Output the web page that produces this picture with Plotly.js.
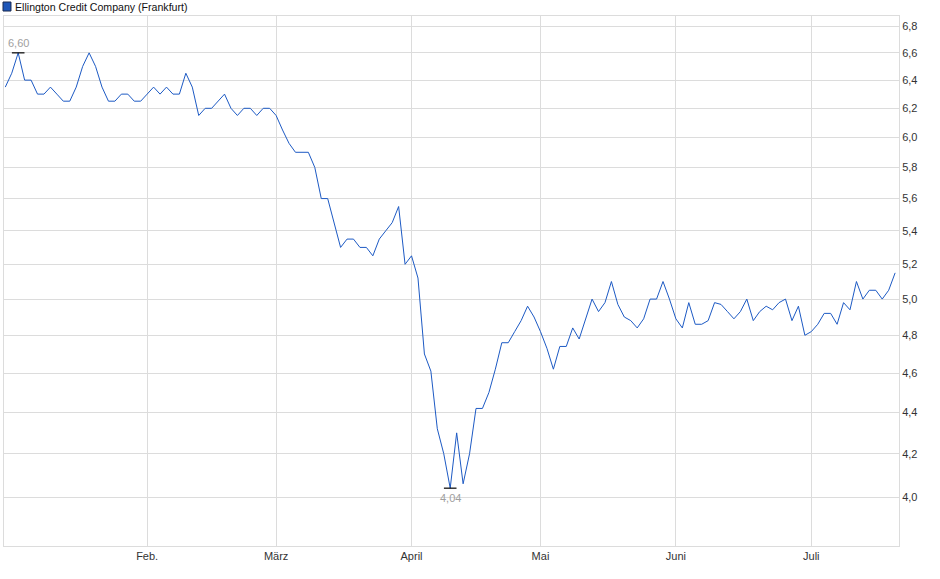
<!DOCTYPE html>
<html>
<head>
<meta charset="utf-8">
<script src="https://cdn.plot.ly/plotly-3.0.1.min.js"></script>
<style>
  html, body { margin: 0; padding: 0; background: #fff; }
  #chart { width: 940px; height: 579px; }
</style>
</head>
<body>
<div id="chart"></div>
<script>
// Ellington Credit Company (Frankfurt) - daily closes, Jan to mid July
// one value per trading day
const seriesName = 'Ellington Credit Company (Frankfurt)';
const closes = [
  6.35, 6.45, 6.60, 6.40, 6.40, 6.30, 6.30, 6.35, 6.30, 6.25,
  6.25, 6.35, 6.50, 6.60, 6.50, 6.35, 6.25, 6.25, 6.30, 6.30,
  6.25, 6.25, 6.30, 6.35, 6.30, 6.35, 6.30, 6.30, 6.45, 6.35,
  6.15, 6.20, 6.20, 6.25, 6.30, 6.20, 6.15, 6.20, 6.20, 6.15,
  6.20, 6.20, 6.15, 6.05, 5.96, 5.90, 5.90, 5.90, 5.80, 5.60,
  5.60, 5.45, 5.30, 5.35, 5.35, 5.30, 5.30, 5.25, 5.35, 5.40,
  5.45, 5.55, 5.20, 5.25, 5.12, 4.70, 4.61, 4.32, 4.20, 4.04,
  4.30, 4.06, 4.20, 4.42, 4.42, 4.50, 4.62, 4.76, 4.76, 4.82,
  4.88, 4.96, 4.90, 4.82, 4.73, 4.62, 4.74, 4.74, 4.84, 4.78,
  4.89, 5.00, 4.93, 4.98, 5.10, 4.97, 4.90, 4.88, 4.84, 4.89,
  5.00, 5.00, 5.10, 5.00, 4.89, 4.84, 4.98, 4.86, 4.86, 4.88,
  4.98, 4.97, 4.93, 4.89, 4.93, 5.00, 4.88, 4.93, 4.96, 4.94,
  4.98, 5.00, 4.88, 4.96, 4.80, 4.82, 4.86, 4.92, 4.92, 4.86,
  4.98, 4.94, 5.10, 5.00, 5.05, 5.05, 5.00, 5.05, 5.15
];

// first trading day of each month (index into closes) and its label
const monthStartIdx = [22, 42, 63, 83, 104, 125];
const monthLabels = ['Feb.', 'März', 'April', 'Mai', 'Juni', 'Juli'];

const yTicks = [4.0, 4.2, 4.4, 4.6, 4.8, 5.0, 5.2, 5.4, 5.6, 5.8, 6.0, 6.2, 6.4, 6.6, 6.8];

const dayIdx = closes.map((_, i) => i);

// high / low markers
const maxVal = Math.max(...closes);
const minVal = Math.min(...closes);
const maxIdx = closes.indexOf(maxVal);
const minIdx = closes.indexOf(minVal);

function fmtDE(v) {
    return v.toFixed(2).replace('.', ',');
}

const lineColor = '#1d5ac4';
const gridColor = '#dcdcdc';

const traces = [
    {
        x: dayIdx,
        y: closes,
        type: 'scatter',
        mode: 'lines',
        name: seriesName,
        line: { color: lineColor, width: 1 },
        hoverinfo: 'skip'
    },
    {
        x: [maxIdx, minIdx],
        y: [maxVal, minVal],
        type: 'scatter',
        mode: 'markers',
        marker: { symbol: 'line-ew', size: 9, line: { color: '#000', width: 1.2 } },
        hoverinfo: 'skip'
    }
];

const layout = {
    width: 940,
    height: 579,
    margin: { l: 4, r: 41, t: 16, b: 33 },
    paper_bgcolor: '#fff',
    plot_bgcolor: '#fff',
    showlegend: false,
    separators: ',.',
    font: { family: 'Liberation Sans, Arial, sans-serif', size: 11, color: '#333' },
    xaxis: {
        range: [-0.2, 138.6],
        tickvals: monthStartIdx,
        ticktext: monthLabels,
        showgrid: true,
        gridcolor: gridColor,
        gridwidth: 1,
        zeroline: false,
        showline: true,
        linecolor: gridColor,
        mirror: true,
        ticks: '',
        tickfont: { size: 11, color: '#333' }
    },
    yaxis: {
        type: 'log',
        side: 'right',
        range: [Math.log10(3.785), Math.log10(6.88)],
        tickvals: yTicks,
        tickformat: '.1f',
        showgrid: true,
        gridcolor: gridColor,
        gridwidth: 1,
        zeroline: false,
        showline: true,
        linecolor: gridColor,
        mirror: true,
        ticks: '',
        tickfont: { size: 11, color: '#333' }
    },
    annotations: [
        {
            x: maxIdx, y: Math.log10(maxVal), xref: 'x', yref: 'y',
            text: fmtDE(maxVal), showarrow: false,
            yanchor: 'bottom', yshift: 2,
            font: { size: 11, color: '#a0a0a0' }
        },
        {
            x: minIdx, y: Math.log10(minVal), xref: 'x', yref: 'y',
            text: fmtDE(minVal), showarrow: false,
            yanchor: 'top', yshift: -2,
            font: { size: 11, color: '#a0a0a0' }
        },
        {
            x: 0.0101, y: 1.017, xref: 'paper', yref: 'paper',
            xanchor: 'left', yanchor: 'middle',
            text: seriesName, showarrow: false,
            font: { size: 10.6, color: '#111' }
        }
    ],
    shapes: [
        {
            type: 'rect', xref: 'paper', yref: 'paper',
            x0: -0.0011, x1: 0.0078, y0: 1.0094, y1: 1.0264,
            fillcolor: '#1e56b8',
            line: { color: '#1a2a50', width: 1 }
        }
    ]
};

Plotly.newPlot('chart', traces, layout, { staticPlot: true, displayModeBar: false });
</script>
</body>
</html>
